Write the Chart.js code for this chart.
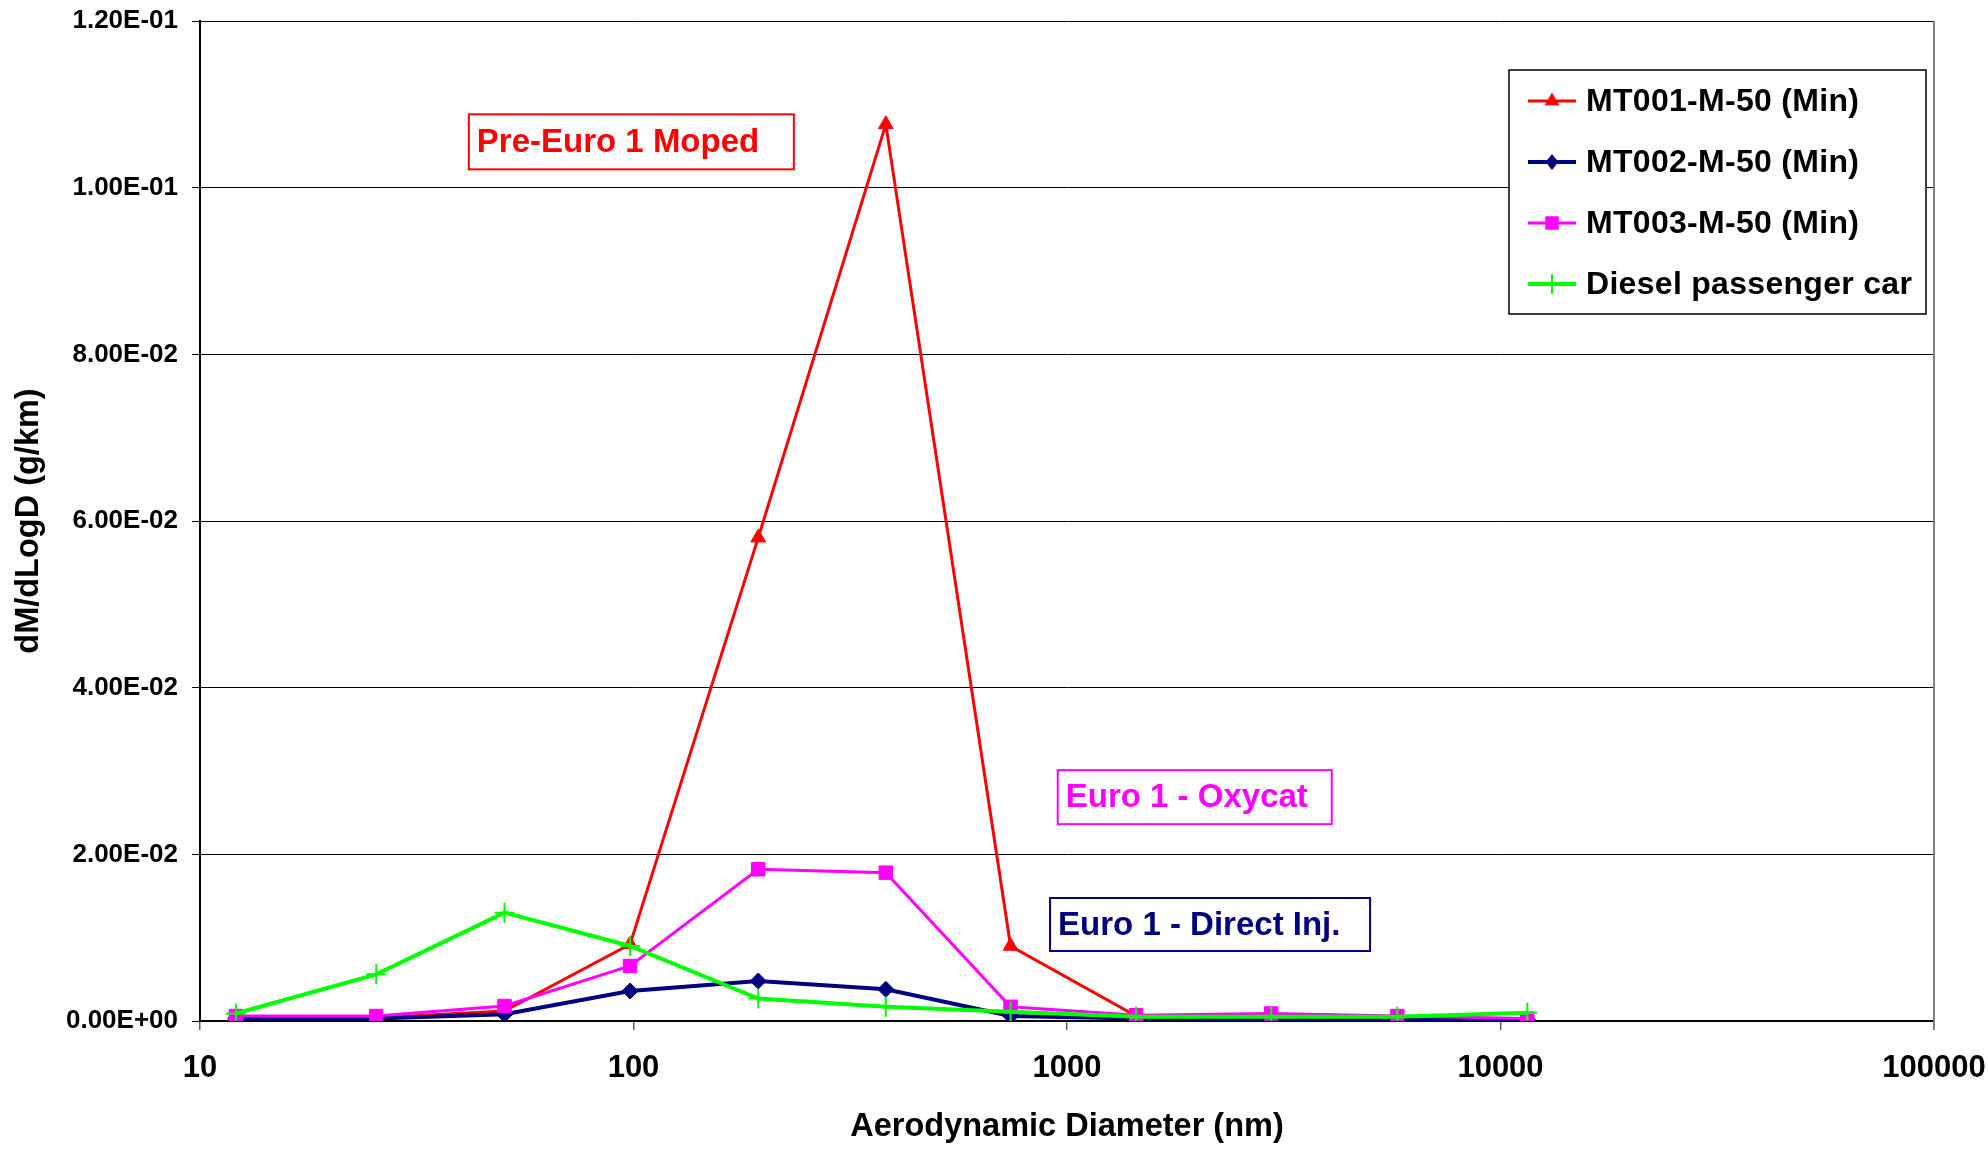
<!DOCTYPE html>
<html>
<head>
<meta charset="utf-8">
<title>dM/dLogD vs Aerodynamic Diameter</title>
<script src="https://cdn.jsdelivr.net/npm/chart.js@4.4.0/dist/chart.umd.min.js"></script>
<style>
  html, body { margin: 0; padding: 0; background: #ffffff; }
  #wrap { width: 1988px; height: 1149px; }
</style>
</head>
<body>
<div id="wrap"><canvas id="c" width="1988" height="1149"></canvas></div>
<script>
// Aerodynamic diameter of each impactor stage (nm)
const diameters = [12.1, 25.5, 50.4, 98.2, 194, 382, 741, 1444, 2958, 5780, 11530];

// dM/dLogD (g/km) per stage
const mt001 = [0.0005, 0.0004, 0.0012, 0.0092, 0.0580, 0.1076, 0.0090, 0.0006, 0.0001, 0.0001, 0.0001];
const mt002 = [0.0003, 0.0003, 0.0008, 0.0036, 0.0048, 0.0038, 0.0006, 0.0003, 0.0002, 0.0002, 0.0002];
const mt003 = [0.0006, 0.0006, 0.0018, 0.0066, 0.0182, 0.0178, 0.0017, 0.0007, 0.0009, 0.0006, 0.0003];
const diesel = [0.0009, 0.0056, 0.0130, 0.0090, 0.0027, 0.0017, 0.0011, 0.0005, 0.0005, 0.0005, 0.0010];

const seriesNames = ['MT001-M-50 (Min)', 'MT002-M-50 (Min)', 'MT003-M-50 (Min)', 'Diesel passenger car'];
const xTickValues = [10, 100, 1000, 10000, 100000];
const yMin = 0, yMax = 0.12, yStep = 0.02;

const noteTexts = ['Pre-Euro 1 Moped', 'Euro 1 - Oxycat', 'Euro 1 - Direct Inj.'];

const FONT = '"Liberation Sans", Arial, Helvetica, sans-serif';

function sci(v) {
  if (Math.abs(v) < 1e-12) return '0.00E+00';
  let e = Math.floor(Math.log10(Math.abs(v)) + 1e-9);
  let m = v / Math.pow(10, e);
  if (Math.round(m * 100) / 100 >= 10) { m /= 10; e += 1; }
  return m.toFixed(2) + 'E' + (e < 0 ? '-' : '+') + String(Math.abs(e)).padStart(2, '0');
}

const pts = arr => diameters.map((x, i) => ({ x: x, y: arr[i] }));

const styles = [
  { color: '#ff0000', width: 3, point: 'triangle', radius: 8.5, pbw: 1 },
  { color: '#000080', width: 4, point: 'rectRot', radius: 8, pbw: 1 },
  { color: '#ff00ff', width: 3, point: 'rect', radius: 9.5, pbw: 1 },
  { color: '#00ff00', width: 4, point: 'cross', radius: 10, pbw: 2 }
];
const seriesValues = [mt001, mt002, mt003, diesel];

const datasets = seriesValues.map((vals, i) => ({
  label: seriesNames[i],
  data: pts(vals),
  borderColor: styles[i].color,
  backgroundColor: styles[i].color,
  borderWidth: styles[i].width,
  pointStyle: styles[i].point,
  pointRadius: styles[i].radius,
  pointBorderWidth: styles[i].pbw,
  pointBackgroundColor: styles[i].color,
  pointBorderColor: styles[i].color,
  tension: 0,
  order: 3 - i
}));

// Small marker painter used by the legend
function marker(ctx, style, x, y, r, color, bw) {
  ctx.save();
  ctx.fillStyle = color; ctx.strokeStyle = color; ctx.lineWidth = bw;
  ctx.beginPath();
  if (style === 'triangle') {
    const w = r * Math.sqrt(3) / 2;
    ctx.moveTo(x, y - r);
    ctx.lineTo(x + w, y + r / 2);
    ctx.lineTo(x - w, y + r / 2);
    ctx.closePath(); ctx.fill();
  } else if (style === 'rectRot') {
    ctx.moveTo(x, y - r); ctx.lineTo(x + r * 0.8, y); ctx.lineTo(x, y + r); ctx.lineTo(x - r * 0.8, y);
    ctx.closePath(); ctx.fill();
  } else if (style === 'rect') {
    const s = r * Math.SQRT1_2;
    ctx.fillRect(x - s, y - s, 2 * s, 2 * s);
  } else if (style === 'cross') {
    ctx.moveTo(x, y - r); ctx.lineTo(x, y + r);
    ctx.moveTo(x - r, y); ctx.lineTo(x + r, y);
    ctx.stroke();
  }
  ctx.restore();
}

// Labelled boxes anchored by their top-left corner in data units
const notes = [
  { text: noteTexts[0], x: 41.7, y: 0.1088, w: 325, h: 55, color: '#ff0000' },
  { text: noteTexts[1], x: 952, y: 0.0301, w: 274, h: 54, color: '#ff00ff' },
  { text: noteTexts[2], x: 914, y: 0.01476, w: 320, h: 53, color: '#000080' }
];

const decorations = {
  id: 'decorations',
  afterDraw(chart) {
    const { ctx, chartArea, scales } = chart;
    // right frame line of the plot area
    ctx.save();
    ctx.strokeStyle = '#808080';
    ctx.lineWidth = 2;
    ctx.beginPath();
    ctx.moveTo(chartArea.right, chartArea.top);
    ctx.lineTo(chartArea.right, chartArea.bottom + 8);
    ctx.stroke();
    ctx.restore();

    // text boxes
    notes.forEach(n => {
      const px = scales.x.getPixelForValue(n.x);
      const py = scales.y.getPixelForValue(n.y);
      ctx.save();
      ctx.fillStyle = '#ffffff';
      ctx.fillRect(px, py, n.w, n.h);
      ctx.strokeStyle = n.color;
      ctx.lineWidth = 2;
      ctx.strokeRect(px, py, n.w, n.h);
      ctx.fillStyle = n.color;
      ctx.font = 'bold 33px ' + FONT;
      ctx.textBaseline = 'middle';
      ctx.textAlign = 'left';
      ctx.fillText(n.text, px + 8, py + n.h / 2 + 1);
      ctx.restore();
    });

    // legend
    const lw = 417, lh = 244;
    const lx = chartArea.right - 8 - lw;
    const ly = chartArea.top + 49;
    ctx.save();
    ctx.fillStyle = '#ffffff';
    ctx.fillRect(lx, ly, lw, lh);
    ctx.strokeStyle = '#000000';
    ctx.lineWidth = 1.5;
    ctx.strokeRect(lx, ly, lw, lh);
    chart.data.datasets.forEach((ds, i) => {
      const cy = ly + 31 + i * 61;
      const st = styles[i];
      ctx.strokeStyle = st.color;
      ctx.lineWidth = st.width;
      ctx.beginPath();
      ctx.moveTo(lx + 19, cy);
      ctx.lineTo(lx + 67, cy);
      ctx.stroke();
      marker(ctx, st.point, lx + 43, cy, st.radius, st.color, st.pbw);
      ctx.fillStyle = '#000000';
      ctx.font = 'bold 32px ' + FONT;
      ctx.letterSpacing = '0.3px';
      ctx.textBaseline = 'middle';
      ctx.textAlign = 'left';
      ctx.fillText(ds.label, lx + 77, cy + 1);
    });
    ctx.restore();
  }
};

new Chart(document.getElementById('c'), {
  type: 'line',
  data: { datasets: datasets },
  plugins: [decorations],
  options: {
    responsive: false,
    devicePixelRatio: 1,
    animation: false,
    layout: { padding: { top: 21, right: 54, bottom: 0, left: 0 } },
    plugins: { legend: { display: false }, tooltip: { enabled: false } },
    scales: {
      x: {
        type: 'logarithmic',
        min: 10,
        max: 100000,
        afterBuildTicks(scale) {
          scale.ticks = xTickValues.map(v => ({ value: v, major: true }));
        },
        afterFit(scale) {
          scale.height = 128;
          scale.paddingLeft = 0;
          scale.paddingRight = 0;
        },
        ticks: {
          autoSkip: false,
          maxRotation: 0,
          padding: 20,
          color: '#000000',
          font: { family: FONT, size: 31, weight: 'bold' },
          callback: v => String(v)
        },
        grid: { drawOnChartArea: false, drawTicks: true, tickLength: 9, color: '#606060', lineWidth: 1.5 },
        border: { display: true, color: '#000000', width: 2 },
        title: {
          display: true,
          text: 'Aerodynamic Diameter (nm)',
          color: '#000000',
          font: { family: FONT, size: 32.5, weight: 'bold' },
          padding: { top: 0, bottom: 2 }
        }
      },
      y: {
        type: 'linear',
        min: yMin,
        max: yMax,
        afterFit(scale) {
          scale.width = 200;
          scale.paddingTop = 0;
          scale.paddingBottom = 0;
        },
        ticks: {
          stepSize: yStep,
          padding: 14,
          color: '#000000',
          font: { family: FONT, size: 26, weight: 'bold' },
          callback: v => sci(v)
        },
        grid: { drawOnChartArea: true, drawTicks: true, tickLength: 8, color: '#000000', lineWidth: 1 },
        border: { display: true, color: '#000000', width: 2 },
        title: {
          display: true,
          text: 'dM/dLogD (g/km)',
          color: '#000000',
          font: { family: FONT, size: 32.5, weight: 'bold' },
          padding: { top: 10, bottom: 0 }
        }
      }
    }
  }
});
</script>
</body>
</html>
